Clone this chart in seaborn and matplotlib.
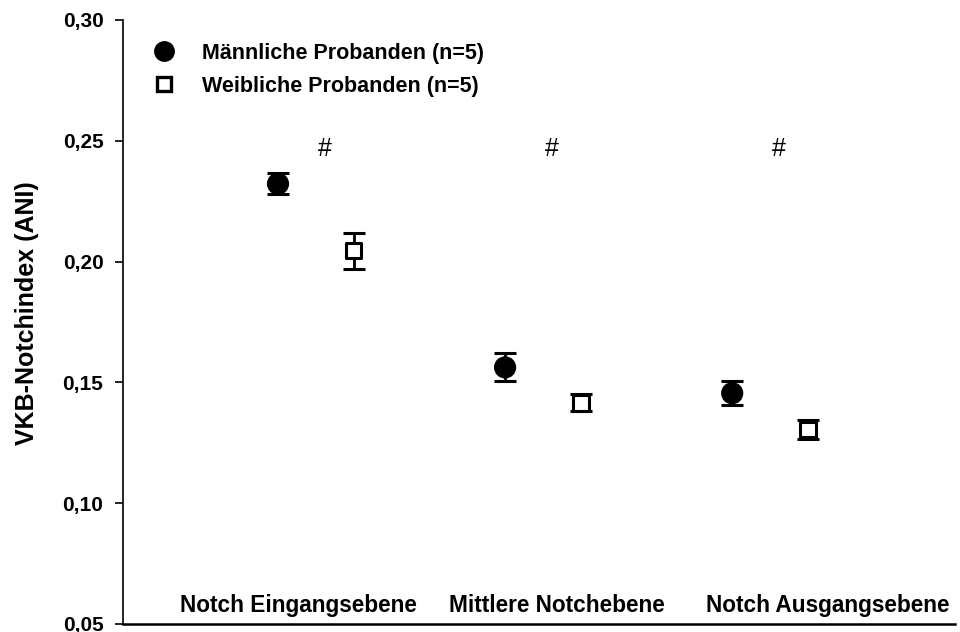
import numpy as np
import pandas as pd
import matplotlib
matplotlib.use("Agg")
import matplotlib.pyplot as plt
from matplotlib.ticker import FuncFormatter
from matplotlib.lines import Line2D
import seaborn as sns

# =====================
# Data
# =====================
ebenen = ["Notch Eingangsebene", "Mittlere Notchebene", "Notch Ausgangsebene"]
gruppen = ["Männliche Probanden (n=5)", "Weibliche Probanden (n=5)"]
mean_m = [0.2322, 0.1562, 0.1455]
err_m = [0.0043, 0.0058, 0.0050]
mean_w = [0.2045, 0.1415, 0.1305]
err_w = [0.0075, 0.0035, 0.0040]
signif = ["#", "#", "#"]

rows = []
for i, e in enumerate(ebenen):
    rows.append({"ebene": e, "idx": i, "gruppe": gruppen[0], "mean": mean_m[i], "err": err_m[i]})
    rows.append({"ebene": e, "idx": i, "gruppe": gruppen[1], "mean": mean_w[i], "err": err_w[i]})
df = pd.DataFrame(rows)
dodge = {gruppen[0]: -0.167, gruppen[1]: 0.167}
df["x"] = df["idx"] + df["gruppe"].map(dodge)

# =====================
# Figure
# =====================
sns.set_style("ticks")
plt.rcParams["font.family"] = ["Liberation Sans", "DejaVu Sans"]
for k in ["text.color", "axes.labelcolor", "xtick.color", "ytick.color", "axes.edgecolor"]:
    plt.rcParams[k] = "black"

fig = plt.figure(figsize=(9.6, 6.32), dpi=100)
ax = fig.add_axes([0.128, 0.0127, 0.867, 0.9557])

for g in gruppen:
    sub = df[df["gruppe"] == g]
    ax.errorbar(sub["x"], sub["mean"], yerr=sub["err"], fmt="none",
                ecolor="black", elinewidth=2.0, capsize=8, capthick=2.2, zorder=2)

sns.scatterplot(data=df, x="x", y="mean", hue="gruppe", style="gruppe",
                markers={gruppen[0]: "o", gruppen[1]: "s"},
                palette={gruppen[0]: "black", gruppen[1]: "white"},
                size="gruppe", sizes={gruppen[0]: 190, gruppen[1]: 120},
                edgecolor="black", linewidth=2.2, legend=False, ax=ax, zorder=3)

# significance marks
for i, s in enumerate(signif):
    ax.text(i + 0.04, 0.2467, s, ha="center", va="center", fontsize=18)

# category labels inside the plot, above the axis
label_x = [-0.075, 1.06, 2.255]
for lx, e in zip(label_x, ebenen):
    ax.text(lx, 0.055, e, ha="center", va="baseline", fontsize=16.3, fontweight="bold")

# legend
handles = [
    Line2D([], [], ls="none", marker="o", mfc="black", mec="black", ms=13.5, mew=1.5),
    Line2D([], [], ls="none", marker="s", mfc="white", mec="black", ms=10.5, mew=2.4),
]
ax.legend(handles, gruppen, loc="upper left", bbox_to_anchor=(0.024, 0.98),
          frameon=False, borderpad=0, handlelength=1.0, handletextpad=1.27,
          labelspacing=0.55, prop={"weight": "bold", "size": 15.5})

ax.set_xlim(-0.85, 2.815)
ax.set_ylim(0.05, 0.30)
ax.set_yticks([0.05, 0.10, 0.15, 0.20, 0.25, 0.30])
ax.yaxis.set_major_formatter(FuncFormatter(lambda v, p: f"{v:.2f}".replace(".", ",")))
ax.set_xticks([])
ax.set_xlabel("")
ax.set_ylabel("VKB-Notchindex (ANI)", fontsize=18, fontweight="bold")
ax.yaxis.set_label_coords(-0.101, 0.515)
for lab in ax.get_yticklabels():
    lab.set_fontweight("bold")
    lab.set_fontsize(15)
ax.tick_params(axis="y", direction="out", length=6, width=1.2, color="black", pad=8)
sns.despine(ax=ax)
ax.spines["left"].set_linewidth(1.2)
ax.spines["bottom"].set_linewidth(1.8)

plt.savefig("out.png", dpi=100)
plt.close()
